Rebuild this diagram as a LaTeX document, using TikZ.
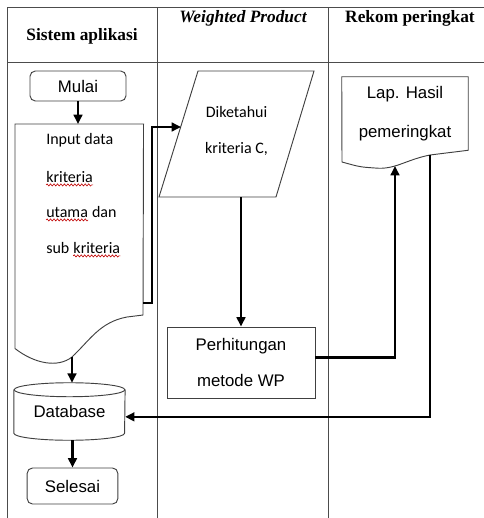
\documentclass[tikz,border=0pt]{standalone}
\usepackage{fontspec}
\setmainfont{Liberation Serif}
\newfontfamily\arialf{Liberation Sans}
\newfontfamily\calf{Carlito}
\usepackage{tikz}
\usetikzlibrary{arrows.meta,positioning,decorations.pathmorphing}

\begin{document}
\begin{tikzpicture}[x=0.75pt,y=-0.75pt,
    grid/.style={draw=black!70,line width=0.75pt},
    head/.style={font=\bfseries\fontsize{13}{15}\selectfont},
    outl/.style={draw=black!75,line width=0.7pt},
    shp/.style={outl,fill=white},
    af/.style={font=\arialf\fontsize{12.6}{14}\selectfont},
    cf/.style={font=\calf\fontsize{12}{14}\selectfont},
    term/.style={shp,af,rounded corners=4pt},
    txt/.style={cf,inner sep=0pt},
    flow/.style={line width=2pt,-{Triangle[length=7pt,width=6.5pt]}},
    squig/.style={draw=red!75!black,line width=0.45pt,decorate,
                  decoration={snake,amplitude=0.8pt,segment length=2.6pt}}]

  \useasboundingbox (0,0) rectangle (484,518);

  % lanes
  \draw[grid] (7,518) -- (7,7) -- (484,7);
  \draw[grid] (7,62) -- (484,62);
  \draw[grid] (157,7) -- (157,518);
  \draw[grid] (328,7) -- (328,518);
  \node[head] (H1) at (82,36) {Sistem aplikasi};
  \node[head] (H2) at (243,18) {\itshape Weighted Product};
  \node[head] (H3) at (410,18) {Rekom peringkat};

  % sistem aplikasi
  \node[term,minimum width=72pt,minimum height=22.5pt] (M) at (78,86) {Mulai};
  \node[minimum width=96pt,minimum height=168pt,anchor=north west] (IN) at (15,124) {};
  \draw[outl] (IN.north west) -- (IN.north east) -- (143,315) -- (127,317)
      .. controls (100,322) and (90,340) .. (72,357)
      .. controls (58,368) and (35,364) .. (IN.south west) -- cycle;
  \coordinate (INb) at (72,357);
  \coordinate (INr) at (143,303);
  \node[txt,anchor=base west] (T1) at (46,144) {Input data};
  \node[txt,anchor=base west] (T2) at (46,182) {kriteria};
  \node[txt,anchor=base west] (T3) at (46,217) {utama};
  \node[txt,right=2.7pt of T3.base east,anchor=base west] (T3b) {dan};
  \node[txt,anchor=base west] (T4) at (46,253) {sub};
  \node[txt,right=2.7pt of T4.base east,anchor=base west] (T4b) {kriteria};
  \draw[squig] ([yshift=-2.2pt]T2.base west) -- ([yshift=-2.2pt]T2.base east);
  \draw[squig] ([yshift=-2.2pt]T3.base west) -- ([yshift=-2.2pt]T3.base east);
  \draw[squig] ([yshift=-2.2pt]T4b.base west) -- ([yshift=-2.2pt]T4b.base east);

  \node[af,minimum width=83pt,minimum height=32.25pt] (DB) at (69.5,411.5) {Database};
  \draw[outl] (DB.north west) -- (DB.south west)
      arc[start angle=180,end angle=360,x radius=41.5pt,y radius=5.25pt] -- (DB.north east);
  \draw[outl] (DB.north) ellipse[x radius=41.5pt,y radius=5.25pt];
  \coordinate (DBtop) at ([yshift=5.25pt]DB.north);
  \coordinate (DBbot) at ([yshift=-5.25pt]DB.south);
  \node[term,minimum width=68pt,minimum height=27pt] (SL) at (72.5,486) {Selesai};

  % weighted product
  \draw[shp] (198,71) -- (314,71) -- (276,197) -- (159,197) -- cycle;
  \node[cf,align=center] (DK) at (236.5,131) {Diketahui\\[13pt]kriteria C,};
  \coordinate (DKin) at (181,127);
  \coordinate (DKout) at (241,197);
  \node[shp,af,minimum width=111pt,minimum height=53.25pt,align=center]
        (PH) at (241,362.5) {Perhitungan\\[13.7pt]metode WP};

  % rekom peringkat
  \node[af,minimum width=94.5pt,minimum height=54.75pt,align=center]
        (LP) at (405,113.5) {Lap. Hasil\\[15pt]pemeringkat};
  \draw[outl] (LP.south east) -- (LP.north east) -- (LP.north west) -- (342,162)
      .. controls (360,167) .. (375,168)
      .. controls (395,170) and (405,160) .. (430,155) -- cycle;
  \coordinate (LPin) at (395,166);
  \coordinate (LPout) at (430,155);

  % connectors
  \draw[flow] (M.south) -- (M.south |- IN.north);
  \draw[flow] (INr) -- ++(9,0) |- (DKin);
  \draw[flow] (INb) -- (INb |- DBtop);
  \draw[flow] (SL.north |- DBbot) -- (SL.north);
  \draw[flow] (DKout) -- (PH.north);
  \draw[flow] ([yshift=4pt]PH.east) -| (LPin);
  \draw[flow] (LPout) |- ([yshift=-4pt]DB.east);
\end{tikzpicture}
\end{document}
